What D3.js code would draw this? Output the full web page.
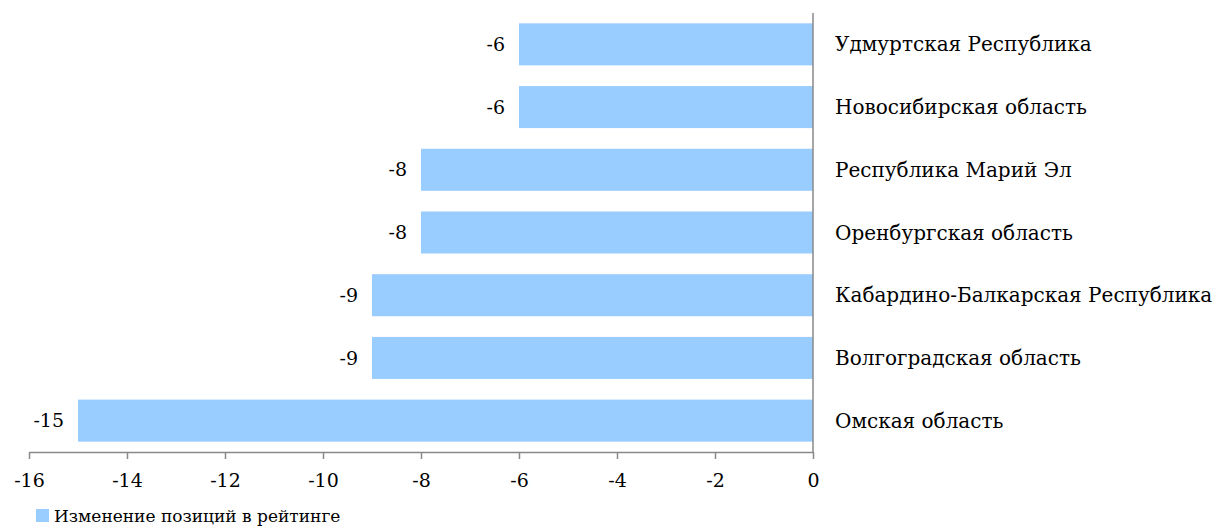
<!DOCTYPE html>
<html>
<head>
<meta charset="utf-8">
<script src="https://cdn.jsdelivr.net/npm/d3@7"></script>
<style>
  body { margin: 0; background: #fff; }
</style>
</head>
<body>
<svg id="chart"></svg>
<script>
// regions, top to bottom
var regions = ["Удмуртская Республика", "Новосибирская область", "Республика Марий Эл",
  "Оренбургская область", "Кабардино-Балкарская Республика", "Волгоградская область", "Омская область"];
var changes = [-6, -6, -8, -8, -9, -9, -15];
var tickValues = [-16, -14, -12, -10, -8, -6, -4, -2, 0];
var seriesName = "Изменение позиций в рейтинге";

var width = 1227, height = 526;
var plotLeft = 29, plotRight = 813, plotTop = 13, plotBottom = 452;
var font = "'DejaVu Serif', serif";

var svg = d3.select("#chart").attr("width", width).attr("height", height);

var x = d3.scaleLinear().domain([-16, 0]).range([plotLeft, plotRight]);
var y = d3.scaleBand().domain(regions).range([plotTop, plotBottom]).paddingInner(0.33).paddingOuter(0.165);

// bars
svg.selectAll(".bar")
  .data(changes)
  .enter().append("rect")
  .attr("class", "bar")
  .attr("x", function(d) { return x(d); })
  .attr("y", function(d, i) { return y(regions[i]); })
  .attr("width", function(d) { return x(0) - x(d); })
  .attr("height", y.bandwidth())
  .attr("fill", "#99ccff");

// value labels
svg.selectAll(".val")
  .data(changes)
  .enter().append("text")
  .attr("x", function(d) { return x(d) - 14; })
  .attr("y", function(d, i) { return y(regions[i]) + y.bandwidth() / 2; })
  .attr("dy", "0.35em")
  .attr("text-anchor", "end")
  .attr("font-family", font)
  .attr("font-size", 19)
  .text(function(d) { return String(d); });

// category labels right of the axis
svg.selectAll(".cat")
  .data(regions)
  .enter().append("text")
  .attr("x", x(0) + 22)
  .attr("y", function(d) { return y(d) + y.bandwidth() / 2; })
  .attr("dy", "0.35em")
  .attr("font-family", font)
  .attr("font-size", 20)
  .text(function(d) { return d; });

// x axis
var xAxis = svg.append("g")
  .attr("transform", "translate(0," + plotBottom + ")")
  .call(d3.axisBottom(x).tickValues(tickValues).tickSize(7).tickPadding(15).tickSizeOuter(0)
    .tickFormat(function(d) { return String(d); }));
xAxis.attr("font-family", font).attr("font-size", 19);
xAxis.select(".domain").attr("stroke", "#898989").attr("stroke-width", 1.5);
xAxis.selectAll(".tick line").attr("stroke", "#898989").attr("stroke-width", 1.5);
xAxis.selectAll(".tick text").attr("fill", "#000");

// vertical axis at zero
svg.append("line")
  .attr("x1", x(0)).attr("x2", x(0))
  .attr("y1", plotTop).attr("y2", plotBottom)
  .attr("stroke", "#898989").attr("stroke-width", 1.5);

// legend
var legend = svg.append("g").attr("transform", "translate(36,509)");
legend.append("rect").attr("width", 13).attr("height", 13).attr("fill", "#99ccff");
legend.append("text").attr("x", 18).attr("y", 13)
  .attr("font-family", font).attr("font-size", 17).text(seriesName);
</script>
</body>
</html>
